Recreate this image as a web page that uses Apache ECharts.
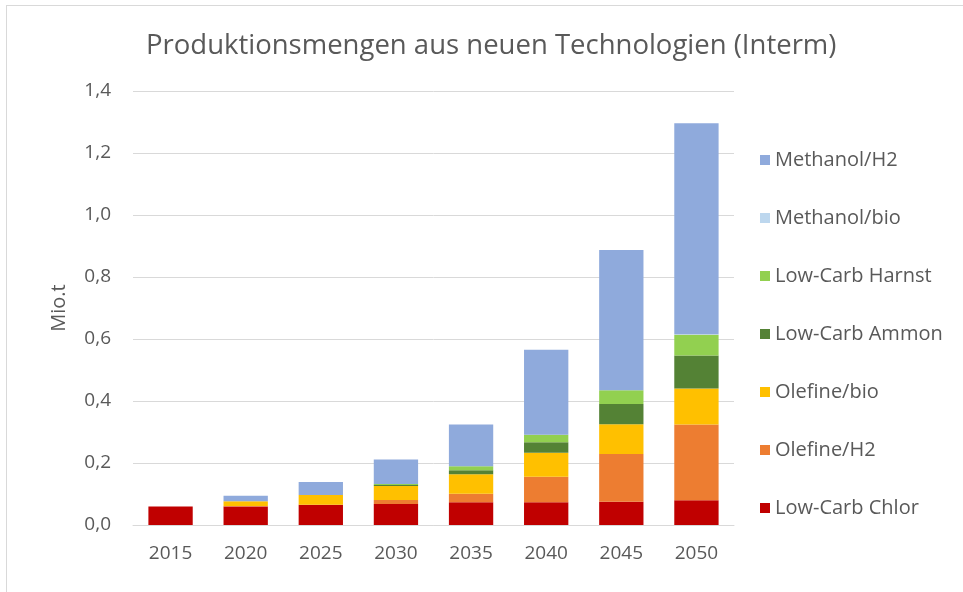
<!DOCTYPE html>
<html>
<head>
<meta charset="utf-8">
<script src="https://cdn.jsdelivr.net/npm/echarts@6/dist/echarts.min.js"></script>
<style>
    html, body { margin: 0; padding: 0; background: #fff; overflow: hidden; }
    #frame { position: absolute; left: 6px; top: 5px; width: 1000px; height: 1000px; border: 1px solid #d9d9d9; }
    #chart-wrap { position: absolute; left: 0; top: 0; width: 963px; height: 592px; }
</style>
</head>
<body>
<div id="frame"></div>
<div id="chart-wrap"></div>
<script>
const years = ["2015", "2020", "2025", "2030", "2035", "2040", "2045", "2050"];
const lowCarbChlor = [0.06, 0.06, 0.065, 0.068, 0.073, 0.073, 0.075, 0.08];
const olefineH2 = [0, 0.001, 0, 0.013, 0.028, 0.083, 0.154, 0.244];
const olefineBio = [0, 0.016, 0.032, 0.045, 0.0625, 0.077, 0.096, 0.116];
const lowCarbAmmon = [0, 0, 0, 0.003, 0.013, 0.034, 0.065, 0.107];
const lowCarbHarnst = [0, 0, 0, 0.003, 0.013, 0.024, 0.045, 0.067];
const methanolBio = [0, 0, 0, 0, 0, 0, 0, 0.001];
const methanolH2 = [0, 0.017, 0.042, 0.079, 0.135, 0.274, 0.452, 0.681];

const seriesList = [
    { name: "Low-Carb Chlor", data: lowCarbChlor, color: "#C00000" },
    { name: "Olefine/H2", data: olefineH2, color: "#ED7D31" },
    { name: "Olefine/bio", data: olefineBio, color: "#FFC000" },
    { name: "Low-Carb Ammon", data: lowCarbAmmon, color: "#548235" },
    { name: "Low-Carb Harnst", data: lowCarbHarnst, color: "#92D050" },
    { name: "Methanol/bio", data: methanolBio, color: "#BDD7EE" },
    { name: "Methanol/H2", data: methanolH2, color: "#8FAADC" },
];

function drawChart() {
    let myChart = echarts.init(document.querySelector("#chart-wrap"));
    const font = "'Open Sans', sans-serif";
    option = {
        animation: false,
        title: {
            text: "Produktionsmengen aus neuen Technologien (Interm)",
            left: 141,
            top: 27,
            textStyle: { fontFamily: font, fontSize: 27.5, fontWeight: "normal", color: "#595959" },
        },
        legend: {
            orient: "vertical",
            left: 755,
            top: 145,
            itemGap: 38,
            itemWidth: 10,
            itemHeight: 10,
            icon: "rect",
            data: seriesList.map(s => s.name).reverse(),
            textStyle: { fontFamily: font, fontSize: 20, color: "#595959" },
        },
        grid: { left: 133, right: 229, top: 91, bottom: 67 },
        xAxis: {
            type: "category",
            data: years,
            axisLine: { lineStyle: { color: "#d9d9d9" } },
            axisTick: { show: false },
            axisLabel: { fontFamily: font, fontSize: 19, color: "#595959", margin: 19 },
        },
        yAxis: {
            type: "value",
            min: 0,
            max: 1.4,
            interval: 0.2,
            name: "Mio.t",
            nameLocation: "middle",
            nameGap: 64,
            nameTextStyle: { fontFamily: font, fontSize: 20, color: "#595959" },
            axisLabel: {
                fontFamily: font, fontSize: 19, color: "#595959", margin: 22,
                formatter: v => v.toFixed(1).replace(".", ","),
            },
            splitLine: { lineStyle: { color: "#d9d9d9" } },
        },
        series: seriesList.map(s => ({
            name: s.name,
            type: "bar",
            stack: "total",
            barWidth: "59%",
            data: s.data,
            itemStyle: { color: s.color },
        })),
    };
    myChart.setOption(option);
    window.addEventListener("resize", function () {
        myChart.resize();
    });
}

drawChart();
</script>
</body>
</html>
